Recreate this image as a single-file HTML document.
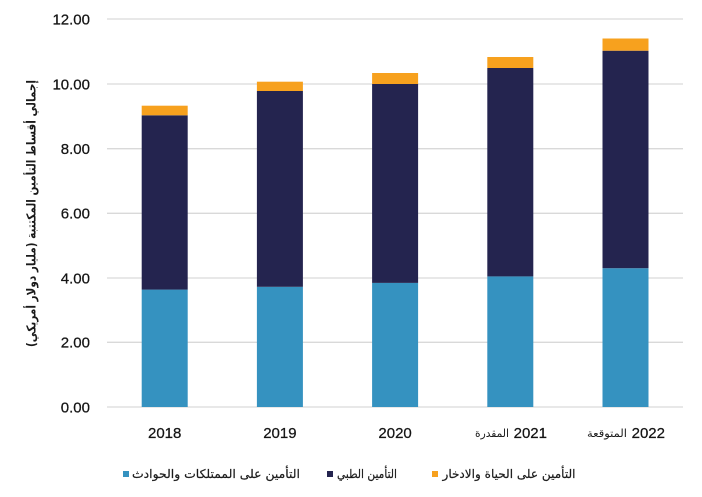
<!DOCTYPE html>
<html>
<head>
<meta charset="utf-8">
<style>
  html,body{margin:0;padding:0;background:#fff;}
  svg{display:block;}
  .num{font-family:"Liberation Sans",Arial,sans-serif;font-size:15px;fill:#151515;stroke:#151515;stroke-width:0.25;}
  .ar{font-family:"DejaVu Sans","Liberation Sans",sans-serif;fill:#1a1a1a;}
</style>
</head>
<body>
<svg width="702" height="497" viewBox="0 0 702 497" xmlns="http://www.w3.org/2000/svg">
  <rect x="0" y="0" width="702" height="497" fill="#ffffff"/>
  <!-- gridlines -->
  <g stroke="#d9d9d9" stroke-width="1.3">
    <line x1="107" y1="19" x2="683" y2="19"/>
    <line x1="107" y1="84" x2="683" y2="84"/>
    <line x1="107" y1="148.7" x2="683" y2="148.7"/>
    <line x1="107" y1="213.3" x2="683" y2="213.3"/>
    <line x1="107" y1="278" x2="683" y2="278"/>
    <line x1="107" y1="342.3" x2="683" y2="342.3"/>
    <line x1="107" y1="407" x2="683" y2="407"/>
  </g>
  <!-- y tick labels -->
  <g class="num" text-anchor="end">
    <text x="90" y="24.5">12.00</text>
    <text x="90" y="89.5">10.00</text>
    <text x="90" y="154">8.00</text>
    <text x="90" y="218.5">6.00</text>
    <text x="90" y="283.5">4.00</text>
    <text x="90" y="347.5">2.00</text>
    <text x="90" y="412.5">0.00</text>
  </g>
  <!-- bars -->
  <g>
    <!-- 2018 -->
    <rect x="141.7" y="289.6" width="46" height="117.4" fill="#3592c0"/>
    <rect x="141.7" y="115.3" width="46" height="174.3" fill="#24244f"/>
    <rect x="141.7" y="105.7" width="46" height="9.6" fill="#f7a11e"/>
    <!-- 2019 -->
    <rect x="256.9" y="286.8" width="46" height="120.2" fill="#3592c0"/>
    <rect x="256.9" y="91" width="46" height="195.8" fill="#24244f"/>
    <rect x="256.9" y="81.7" width="46" height="9.3" fill="#f7a11e"/>
    <!-- 2020 -->
    <rect x="372.1" y="282.9" width="46" height="124.1" fill="#3592c0"/>
    <rect x="372.1" y="84" width="46" height="198.9" fill="#24244f"/>
    <rect x="372.1" y="73" width="46" height="11" fill="#f7a11e"/>
    <!-- 2021 -->
    <rect x="487.3" y="276.4" width="46" height="130.6" fill="#3592c0"/>
    <rect x="487.3" y="68" width="46" height="208.4" fill="#24244f"/>
    <rect x="487.3" y="57" width="46" height="11" fill="#f7a11e"/>
    <!-- 2022 -->
    <rect x="602.5" y="268.2" width="46" height="138.8" fill="#3592c0"/>
    <rect x="602.5" y="50.7" width="46" height="217.5" fill="#24244f"/>
    <rect x="602.5" y="38.5" width="46" height="12.2" fill="#f7a11e"/>
  </g>
  <!-- x labels -->
  <g class="num">
    <text x="164.7" y="438" text-anchor="middle">2018</text>
    <text x="279.9" y="438" text-anchor="middle">2019</text>
    <text x="395.1" y="438" text-anchor="middle">2020</text>
    <text x="547" y="438" text-anchor="end">2021</text>
    <text x="665" y="438" text-anchor="end">2022</text>
  </g>
  <g class="ar" font-size="11">
    <text x="492" y="437" text-anchor="middle" style="direction:rtl;unicode-bidi:embed" textLength="34" lengthAdjust="spacingAndGlyphs">المقدرة</text>
    <text x="607" y="437" text-anchor="middle" style="direction:rtl;unicode-bidi:embed" textLength="40" lengthAdjust="spacingAndGlyphs">المتوقعة</text>
  </g>
  <!-- y axis title -->
  <g transform="translate(31,213.5) rotate(-90)">
    <text class="ar" x="0" y="4.5" font-size="12.5" font-weight="bold" text-anchor="middle" style="direction:rtl;unicode-bidi:embed" textLength="267" lengthAdjust="spacingAndGlyphs">إجمالي أقساط التأمين المكتتبة (مليار دولار أمريكي)</text>
  </g>
  <!-- legend -->
  <rect x="123" y="471" width="6" height="6" fill="#3592c0"/>
  <text class="ar" x="216" y="478" font-size="12" fill="#222" stroke="#222" stroke-width="0.2" text-anchor="middle" style="direction:rtl;unicode-bidi:embed" textLength="168" lengthAdjust="spacingAndGlyphs">التأمين على الممتلكات والحوادث</text>
  <rect x="327" y="471" width="6" height="6" fill="#24244f"/>
  <text class="ar" x="367" y="478" font-size="12" fill="#222" stroke="#222" stroke-width="0.2" text-anchor="middle" style="direction:rtl;unicode-bidi:embed" textLength="60" lengthAdjust="spacingAndGlyphs">التأمين الطبي</text>
  <rect x="432" y="471" width="6" height="6" fill="#f7a11e"/>
  <text class="ar" x="509" y="478" font-size="12" fill="#222" stroke="#222" stroke-width="0.2" text-anchor="middle" style="direction:rtl;unicode-bidi:embed" textLength="133" lengthAdjust="spacingAndGlyphs">التأمين على الحياة والادخار</text>
</svg>
</body>
</html>
